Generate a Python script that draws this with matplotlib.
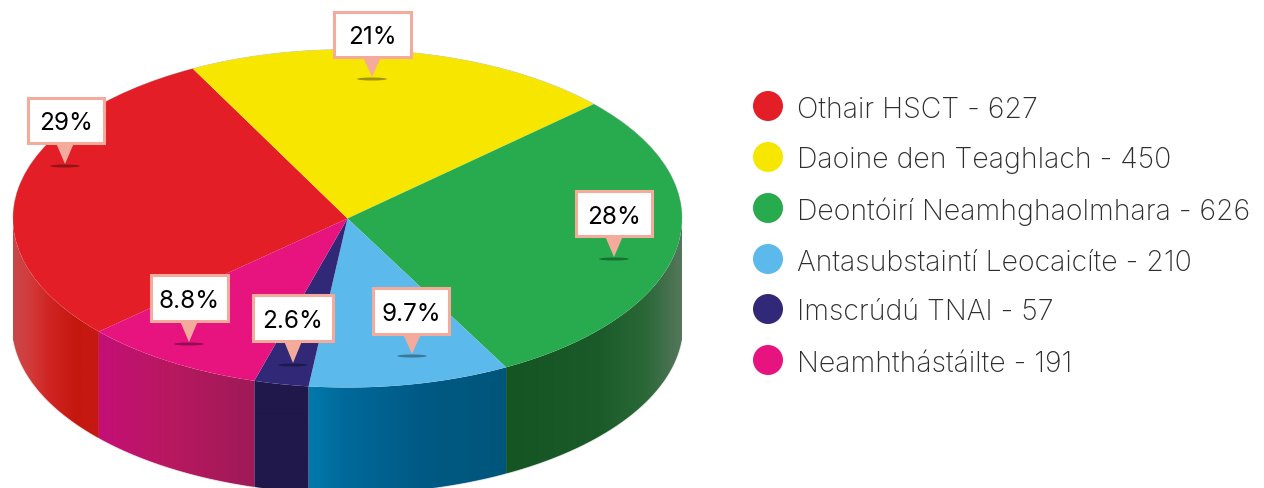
import numpy as np
import matplotlib
matplotlib.use("Agg")
import matplotlib.pyplot as plt
from matplotlib.colors import to_rgb
from matplotlib.patches import Rectangle, Polygon, Ellipse

# ---- data ----
categories = ["Othair HSCT", "Daoine den Teaghlach", "Deontóirí Neamhghaolmhara",
              "Antasubstaintí Leocaicíte", "Imscrúdú TNAI", "Neamhthástáilte"]
counts = [627, 450, 626, 210, 57, 191]
percent_labels = ["29%", "21%", "28%", "9.7%", "2.6%", "8.8%"]

# ---- style ----
top_colors = ["#e41e26", "#f7e600", "#27ab4e", "#5cb9ec", "#312878", "#e7137f"]
side_stops = [
    [(13, "#c8484a"), (28, "#d23c3c"), (50, "#cf2422"), (75, "#c4180f"), (97, "#c51812")],
    [(0, "#888800"), (1264, "#888800")],
    [(507, "#155524"), (600, "#1b5b29"), (645, "#2a6838"), (682, "#56775c")],
    [(310, "#0079aa"), (345, "#00699a"), (420, "#005a85"), (507, "#00557a")],
    [(250, "#20184a"), (310, "#20184a")],
    [(97, "#c40f78"), (170, "#b8185f"), (250, "#a01a58")],
]
W, H = 1264, 489
CX, CY, RX, RY, DEPTH = 347.5, 219.5, 334.5, 169.0, 106.5
START = 222.0
BORDER = "#f4ab9c"
FONT = "Inter"

# callout layout: box left, right, top, bottom, tip x, tip y
boxes = [(28, 104, 99, 144, 65, 165), (334, 411, 13, 58, 372, 78),
         (576, 652, 192, 237, 614, 258), (373, 449, 289, 335, 412, 355),
         (253, 333, 296, 342, 293, 364), (151, 228, 276, 322, 189, 343)]
legend_y = [107, 158, 209, 260, 310, 361]

fig = plt.figure(figsize=(W / 100, H / 100), dpi=100, facecolor="white")
ax = fig.add_axes([0, 0, 1, 1])
ax.pie(counts, colors=top_colors, startangle=START, counterclock=False, radius=1.0,
       center=(0, 0), wedgeprops={"linewidth": 0.3, "zorder": 3}, frame=False)

# extruded side from the same shares
angles = START - np.cumsum([0] + counts) / sum(counts) * 360.0
d = DEPTH / RY
rxb = 1.0045
for i in range(len(counts)):
    a = np.append(np.arange(angles[i], angles[i + 1], -0.25), angles[i + 1])
    a = a[np.sin(np.radians(a)) <= 0.0]
    if len(a) < 2:
        continue
    x = np.cos(np.radians(a))
    top = np.sin(np.radians(a))
    bot = -d - np.sqrt(np.clip(1 - (x / rxb) ** 2, 0, None))
    pxs = [s[0] for s in side_stops[i]]
    rgbs = np.array([to_rgb(s[1]) for s in side_stops[i]])
    grid = np.arange(CX + RX * x.min() - 1, CX + RX * x.max() + 2)
    img = np.stack([np.interp(grid, pxs, rgbs[:, k]) for k in range(3)], axis=1)[None, :, :]
    im = ax.imshow(img, aspect="auto", interpolation="bilinear", zorder=1,
                   extent=[(grid[0] - CX) / RX, (grid[-1] - CX) / RX, -2.0, 0.5])
    outline = Polygon(np.column_stack([np.r_[x, x[::-1]], np.r_[top, bot[::-1]]]),
                      closed=True, transform=ax.transData, fc="none", ec="none")
    ax.add_patch(outline)
    im.set_clip_path(outline)
    ax.plot(x, bot, color="white", lw=0.7, alpha=0.7, zorder=2)

# stretch the circular pie to an ellipse by fixing the data window
ax.set_aspect("auto")
ax.set_xlim((0 - CX) / RX, (W - CX) / RX)
ax.set_ylim((CY - H) / RY, CY / RY)
ax.axis("off")

# faint rim at the back
th = np.radians(np.linspace(0, 180, 300))
ax.plot(np.cos(th), np.sin(th), color="#b8b8b8", lw=0.5, zorder=2)

# overlay in pixel units
ov = fig.add_axes([0, 0, 1, 1], facecolor="none")
ov.set_xlim(0, W)
ov.set_ylim(H, 0)
ov.axis("off")

for (l, r, t, b, tx, ty), lab in zip(boxes, percent_labels):
    ov.add_patch(Ellipse((tx, ty + 2), 30, 3, color="#000000", alpha=0.35, lw=0, zorder=4))
    ov.add_patch(Polygon([(tx - 9, b), (tx + 9, b), (tx, ty)], closed=True, color=BORDER, lw=0, zorder=5))
    ov.add_patch(Rectangle((l, t), r - l, b - t, fc="white", ec=BORDER, lw=2.2, zorder=6))
    ov.text((l + r) / 2, (t + b) / 2 + 2.5, lab, ha="center", va="center", family=FONT,
            fontsize=17.5, color="black", zorder=7)

for name, n, c, y in zip(categories, counts, top_colors, legend_y):
    ov.add_patch(Ellipse((768, y), 30, 30, color=c, lw=0))
    ov.text(797, y + 3, f"{name} - {n}", ha="left", va="center", family=FONT,
            fontweight="light", fontsize=20.5, color="#2e2e2e")

fig.savefig("out.png", dpi=100)
